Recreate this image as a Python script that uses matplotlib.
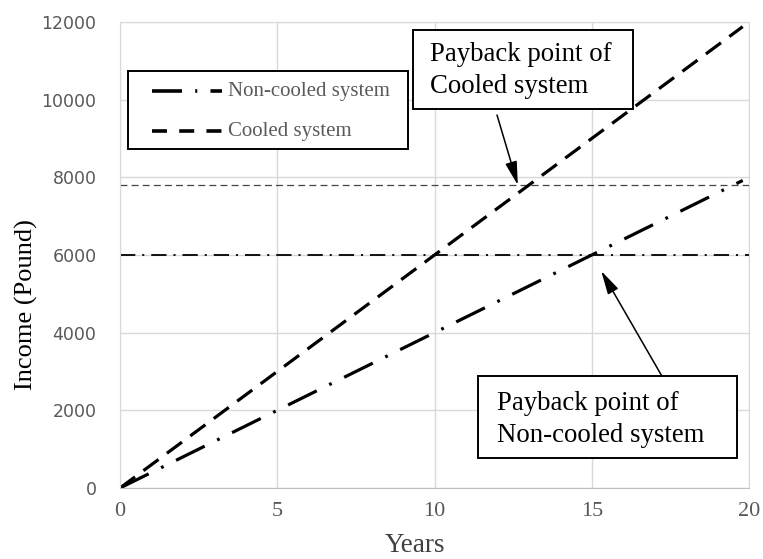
import matplotlib
matplotlib.use("Agg")
import matplotlib.pyplot as plt
from matplotlib.lines import Line2D
from matplotlib.patches import Rectangle

plt.rcParams['font.family'] = ['Liberation Serif', 'DejaVu Serif']
plt.rcParams['lines.scale_dashes'] = False

# Data
years = [0, 19.8]
cooled_income = [0, 11880]
noncooled_income = [0, 7920]
cooled_cost = 7800
noncooled_cost = 6000
x_ticks = [0, 5, 10, 15, 20]
y_ticks = [0, 2000, 4000, 6000, 8000, 10000, 12000]
cooled_payback = (12.65, 7800)
noncooled_payback = (15.3, 5590)
series_names = ['Non-cooled system', 'Cooled system']
note_cooled = 'Payback point of\nCooled system'
note_noncooled = 'Payback point of\nNon-cooled system'

W, H = 763, 559
fig = plt.figure(figsize=(W / 100, H / 100), dpi=100)
ax = fig.add_axes([120 / W, 1 - 488 / H, 629 / W, 466 / H])

def fp(x, y):
    """figure fraction from pixel position (top-left origin)"""
    return x / W, 1 - y / H

ax.axhline(noncooled_cost, color='black', lw=1.3, dashes=(11, 5, 1.5, 5))
ax.axhline(cooled_cost, color='#444444', lw=0.9, dashes=(5, 3))

ax.plot(years, noncooled_income, color='black', lw=2.3, dashes=(23, 10, 2, 10))
ax.plot(years, cooled_income, color='black', lw=2.3, dashes=(13.5, 7.5))

ax.set_xlim(0, 20)
ax.set_ylim(0, 12000)
ax.set_xticks(x_ticks)
ax.set_yticks(y_ticks)
ax.grid(True, color='#d9d9d9', lw=1.0)
ax.set_axisbelow(True)
for s in ax.spines.values():
    s.set_color('#d9d9d9')
ax.spines['bottom'].set_color('#bfbfbf')
ax.tick_params(length=0)
ax.tick_params(axis='x', labelsize=16, labelcolor='#595959', pad=10)
ax.tick_params(axis='y', labelsize=12.5, labelcolor='#595959', pad=17)
for lab in ax.get_yticklabels():
    lab.set_family('DejaVu Sans')

fig.text(*fp(414.5, 552), 'Years', fontsize=19.5, color='#404040',
         ha='center', va='baseline')
fig.text(*fp(33, 305), 'Income (Pound)', fontsize=19, color='black',
         rotation=90, rotation_mode='anchor', ha='center', va='baseline')

# Legend (drawn as a framed key)
fig.add_artist(Rectangle(fp(128, 149), 280 / W, 78 / H, transform=fig.transFigure,
                         fc='white', ec='black', lw=1.4, zorder=3))
h1x = [fp(152, 91)[0], fp(222, 91)[0]]
h1y = [fp(152, 91)[1]] * 2
h2y = [fp(152, 131)[1]] * 2
fig.add_artist(Line2D(h1x, h1y, transform=fig.transFigure, color='black', lw=2.6,
                      dashes=(21.6, 9.5, 1.5, 9.5), zorder=4))
fig.add_artist(Line2D(h1x, h2y, transform=fig.transFigure, color='black', lw=2.6,
                      dashes=(10.8, 8.8), zorder=4))
fig.text(*fp(228, 96), series_names[0], fontsize=15, color='#5a5a5a',
         ha='left', va='baseline', zorder=5)
fig.text(*fp(228, 136), series_names[1], fontsize=15, color='#5a5a5a',
         ha='left', va='baseline', zorder=5)

# Annotation boxes
fig.add_artist(Rectangle(fp(413, 109), 220 / W, 79 / H, transform=fig.transFigure,
                         fc='white', ec='black', lw=1.4, zorder=3))
fig.text(*fp(430, 93), note_cooled, fontsize=19.3, color='black',
         ha='left', va='baseline', linespacing=1.35, zorder=5)
fig.add_artist(Rectangle(fp(478, 458), 259 / W, 82 / H, transform=fig.transFigure,
                         fc='white', ec='black', lw=1.4, zorder=3))
fig.text(*fp(497, 442), note_noncooled, fontsize=19.3, color='black',
         ha='left', va='baseline', linespacing=1.35, zorder=5)

arrow = dict(arrowstyle='-|>,head_length=0.8,head_width=0.2', color='black',
             lw=1.1, mutation_scale=18, shrinkA=0, shrinkB=0)
ax.annotate('', xy=cooled_payback, xycoords='data',
            xytext=(497, H - 115), textcoords='figure pixels', arrowprops=arrow)
ax.annotate('', xy=noncooled_payback, xycoords='data',
            xytext=(663, H - 378), textcoords='figure pixels', arrowprops=arrow)

fig.savefig('out.png', dpi=100)
